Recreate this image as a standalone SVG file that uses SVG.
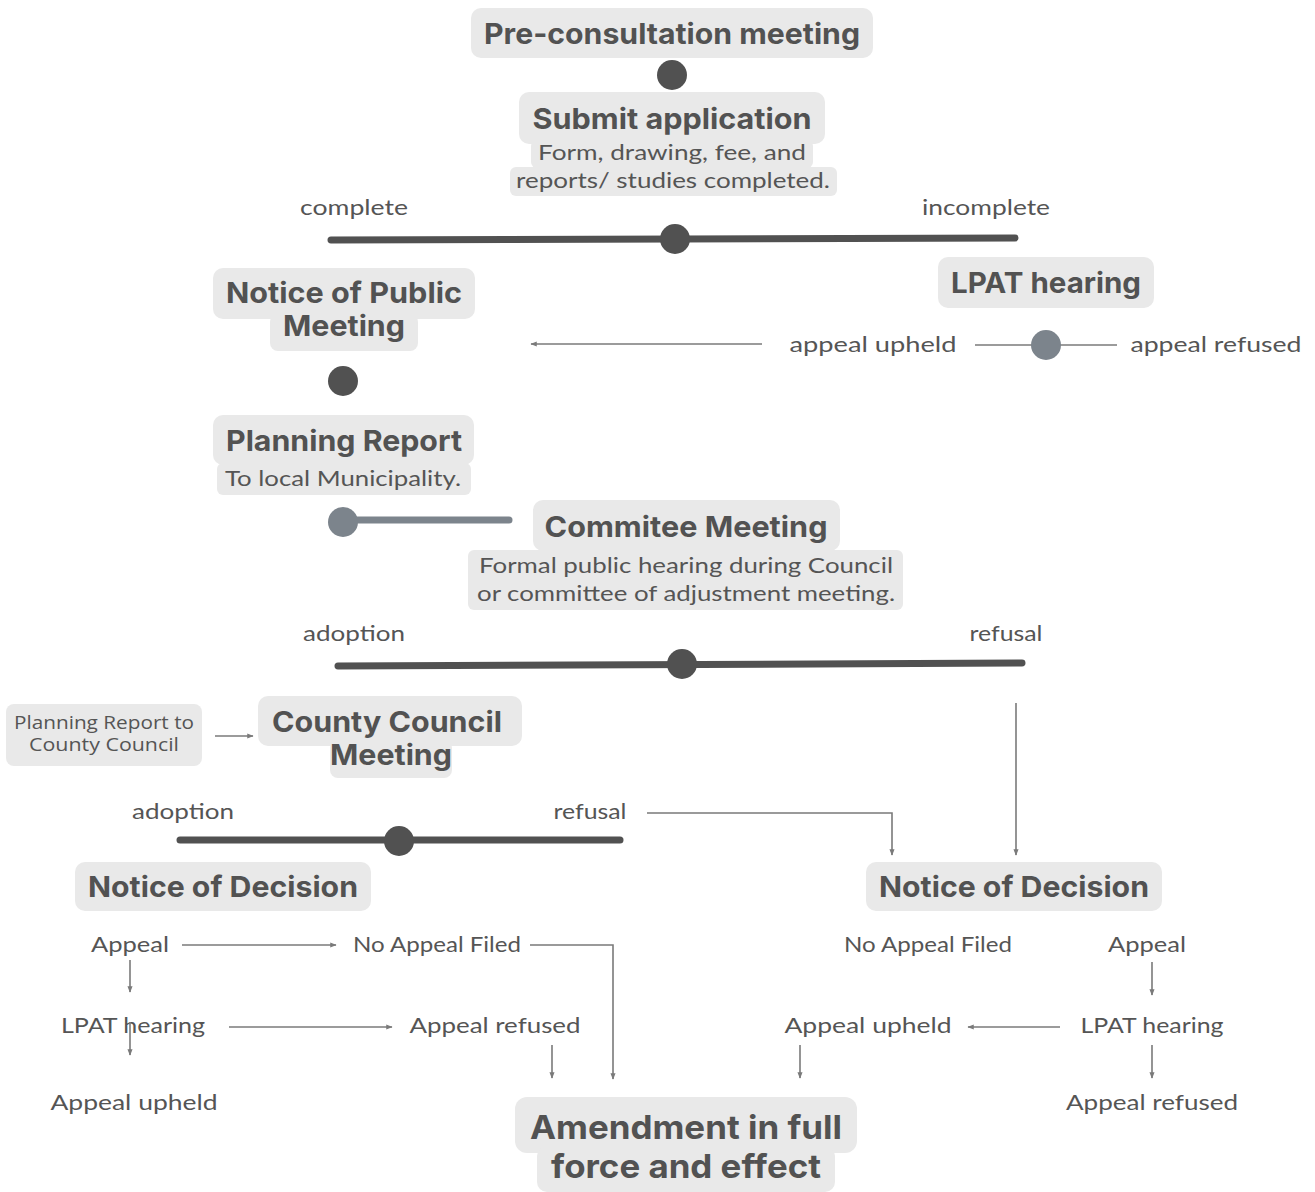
<svg xmlns="http://www.w3.org/2000/svg" width="1315" height="1192" viewBox="0 0 1315 1192">
<defs>
<style>
.box{fill:#e9e9e9}
.h{font-family:Inter,"Open Sans","Liberation Sans",sans-serif;font-weight:700;font-size:29px;fill:#525252;text-anchor:middle}
.hl{font-size:33px}
.l{font-family:Lato,"Noto Sans","Liberation Sans",sans-serif;font-weight:400;font-size:21px;fill:#555;text-anchor:middle}
.s{font-family:"Open Sans","Liberation Sans",sans-serif;font-size:18px;fill:#555;text-anchor:middle}
.bar{stroke:#515151;stroke-width:7;stroke-linecap:round;fill:none}
.gbar{stroke:#7c848c;stroke-width:7;stroke-linecap:round;fill:none}
.dot{fill:#515151}
.gdot{fill:#7c848c}
.c{stroke:#7a7a7a;stroke-width:1.6;fill:none}
</style>
<marker id="ah" viewBox="0 0 10 10" refX="9" refY="5" markerWidth="4" markerHeight="4" orient="auto">
<path d="M0,1 L10,5 L0,9 z" fill="#7a7a7a"/>
</marker>
</defs>

<g id="pre-consultation">
<rect class="box" x="471" y="8" width="402" height="50" rx="10"/>
<text class="h" x="672" y="44" textLength="376" lengthAdjust="spacingAndGlyphs">Pre-consultation meeting</text>
</g>
<g id="dot1"><circle class="dot" cx="672" cy="75" r="15"/></g>
<g id="submit">
<rect class="box" x="519" y="92" width="306" height="52" rx="10"/>
<rect class="box" x="531" y="140" width="282" height="28" rx="6"/>
<rect class="box" x="510" y="167" width="327" height="29" rx="6"/>
<text class="h" x="672" y="129" textLength="279" lengthAdjust="spacingAndGlyphs">Submit application</text>
<text class="l" x="672" y="160" textLength="268" lengthAdjust="spacingAndGlyphs">Form, drawing, fee, and</text>
<text class="l" x="673" y="188" textLength="314" lengthAdjust="spacingAndGlyphs">reports/ studies completed.</text>
</g>

<g id="split1">
<text class="l" x="354" y="215" textLength="108" lengthAdjust="spacingAndGlyphs">complete</text>
<text class="l" x="986" y="215" textLength="128" lengthAdjust="spacingAndGlyphs">incomplete</text>
<line class="bar" x1="331" y1="240" x2="1015" y2="238"/>
<circle class="dot" cx="675" cy="239" r="15"/>
</g>

<g id="notice-public">
<rect class="box" x="213" y="268" width="262" height="51" rx="10"/>
<rect class="box" x="270" y="314" width="148" height="37" rx="8"/>
<text class="h" x="344" y="303" textLength="236" lengthAdjust="spacingAndGlyphs">Notice of Public</text>
<text class="h" x="344" y="336" textLength="122" lengthAdjust="spacingAndGlyphs">Meeting</text>
</g>

<g id="lpat-top">
<rect class="box" x="938" y="257" width="216" height="51" rx="10"/>
<text class="h" x="1046" y="293" textLength="190" lengthAdjust="spacingAndGlyphs">LPAT hearing</text>
</g>
<g id="lpat-outcomes">
<text class="l" x="873" y="352" textLength="167" lengthAdjust="spacingAndGlyphs">appeal upheld</text>
<text class="l" x="1216" y="352" textLength="171" lengthAdjust="spacingAndGlyphs">appeal refused</text>
<line class="c" x1="975" y1="345" x2="1117" y2="345"/>
<circle class="gdot" cx="1046" cy="345" r="15"/>
</g>

<g id="dot2"><circle class="dot" cx="343" cy="381" r="15"/></g>

<g id="planning-report">
<rect class="box" x="213" y="415" width="261" height="50" rx="10"/>
<rect class="box" x="217" y="463" width="254" height="32" rx="6"/>
<text class="h" x="344" y="451" textLength="236" lengthAdjust="spacingAndGlyphs">Planning Report</text>
<text class="l" x="343" y="486" textLength="236" lengthAdjust="spacingAndGlyphs">To local Municipality.</text>
</g>

<g id="gray-link">
<line class="gbar" x1="343" y1="520" x2="509" y2="520"/>
<circle class="gdot" cx="343" cy="522" r="15"/>
</g>

<g id="committee">
<rect class="box" x="533" y="500" width="307" height="51" rx="10"/>
<rect class="box" x="468" y="550" width="435" height="60" rx="6"/>
<text class="h" x="686" y="537" textLength="283" lengthAdjust="spacingAndGlyphs">Commitee Meeting</text>
<text class="l" x="686" y="573" textLength="414" lengthAdjust="spacingAndGlyphs">Formal public hearing during Council</text>
<text class="l" x="686" y="601" textLength="418" lengthAdjust="spacingAndGlyphs">or committee of adjustment meeting.</text>
</g>

<g id="split2">
<text class="l" x="354" y="641" textLength="102" lengthAdjust="spacingAndGlyphs">adoption</text>
<text class="l" x="1006" y="641" textLength="73" lengthAdjust="spacingAndGlyphs">refusal</text>
<line class="bar" x1="338" y1="666" x2="1022" y2="663"/>
<circle class="dot" cx="682" cy="664" r="15"/>
</g>

<g id="planning-report-county">
<rect class="box" x="6" y="704" width="196" height="62" rx="8"/>
<text class="s" x="104" y="729" textLength="180" lengthAdjust="spacingAndGlyphs">Planning Report to</text>
<text class="s" x="104" y="751" textLength="150" lengthAdjust="spacingAndGlyphs">County Council</text>
</g>

<g id="county-council">
<rect class="box" x="258" y="696" width="264" height="50" rx="10"/>
<rect class="box" x="330" y="740" width="122" height="38" rx="8"/>
<text class="h" x="387" y="732" textLength="230" lengthAdjust="spacingAndGlyphs">County Council</text>
<text class="h" x="391" y="765" textLength="122" lengthAdjust="spacingAndGlyphs">Meeting</text>
</g>

<g id="split3">
<text class="l" x="183" y="819" textLength="102" lengthAdjust="spacingAndGlyphs">adoption</text>
<text class="l" x="590" y="819" textLength="73" lengthAdjust="spacingAndGlyphs">refusal</text>
<line class="bar" x1="180" y1="840" x2="620" y2="840"/>
<circle class="dot" cx="399" cy="841" r="15"/>
</g>

<g id="notice-decision-left">
<rect class="box" x="75" y="862" width="296" height="49" rx="10"/>
<text class="h" x="223" y="897" textLength="270" lengthAdjust="spacingAndGlyphs">Notice of Decision</text>
</g>

<g id="notice-decision-right">
<rect class="box" x="866" y="862" width="296" height="49" rx="10"/>
<text class="h" x="1014" y="897" textLength="270" lengthAdjust="spacingAndGlyphs">Notice of Decision</text>
</g>

<g id="left-outcomes">
<text class="l" x="130" y="952" textLength="78" lengthAdjust="spacingAndGlyphs">Appeal</text>
<text class="l" x="437" y="952" textLength="168" lengthAdjust="spacingAndGlyphs">No Appeal Filed</text>
<text class="l" x="133" y="1033" textLength="144" lengthAdjust="spacingAndGlyphs">LPAT hearing</text>
<text class="l" x="495" y="1033" textLength="171" lengthAdjust="spacingAndGlyphs">Appeal refused</text>
<text class="l" x="134" y="1110" textLength="167" lengthAdjust="spacingAndGlyphs">Appeal upheld</text>
</g>

<g id="right-outcomes">
<text class="l" x="928" y="952" textLength="168" lengthAdjust="spacingAndGlyphs">No Appeal Filed</text>
<text class="l" x="1147" y="952" textLength="78" lengthAdjust="spacingAndGlyphs">Appeal</text>
<text class="l" x="868" y="1033" textLength="167" lengthAdjust="spacingAndGlyphs">Appeal upheld</text>
<text class="l" x="1152" y="1033" textLength="143" lengthAdjust="spacingAndGlyphs">LPAT hearing</text>
<text class="l" x="1152" y="1110" textLength="172" lengthAdjust="spacingAndGlyphs">Appeal refused</text>
</g>

<g id="amendment">
<rect class="box" x="515" y="1097" width="342" height="56" rx="12"/>
<rect class="box" x="537" y="1146" width="298" height="46" rx="10"/>
<text class="h hl" x="686" y="1139" textLength="312" lengthAdjust="spacingAndGlyphs">Amendment in full</text>
<text class="h hl" x="686" y="1178" textLength="270" lengthAdjust="spacingAndGlyphs">force and effect</text>
</g>

<g id="connectors">
<line class="c" x1="762" y1="344" x2="531" y2="344" marker-end="url(#ah)"/>
<line class="c" x1="215" y1="736" x2="253" y2="736" marker-end="url(#ah)"/>
<polyline class="c" points="647,813 892,813 892,855" marker-end="url(#ah)"/>
<line class="c" x1="1016" y1="703" x2="1016" y2="855" marker-end="url(#ah)"/>
<line class="c" x1="182" y1="945" x2="336" y2="945" marker-end="url(#ah)"/>
<polyline class="c" points="530,945 613,945 613,1079" marker-end="url(#ah)"/>
<line class="c" x1="130" y1="960" x2="130" y2="992" marker-end="url(#ah)"/>
<line class="c" x1="229" y1="1027" x2="392" y2="1027" marker-end="url(#ah)"/>
<line class="c" x1="130" y1="1022" x2="130" y2="1055" marker-end="url(#ah)"/>
<line class="c" x1="552" y1="1045" x2="552" y2="1078" marker-end="url(#ah)"/>
<line class="c" x1="1152" y1="962" x2="1152" y2="995" marker-end="url(#ah)"/>
<line class="c" x1="1060" y1="1027" x2="968" y2="1027" marker-end="url(#ah)"/>
<line class="c" x1="800" y1="1045" x2="800" y2="1078" marker-end="url(#ah)"/>
<line class="c" x1="1152" y1="1045" x2="1152" y2="1078" marker-end="url(#ah)"/>
</g>
</svg>
